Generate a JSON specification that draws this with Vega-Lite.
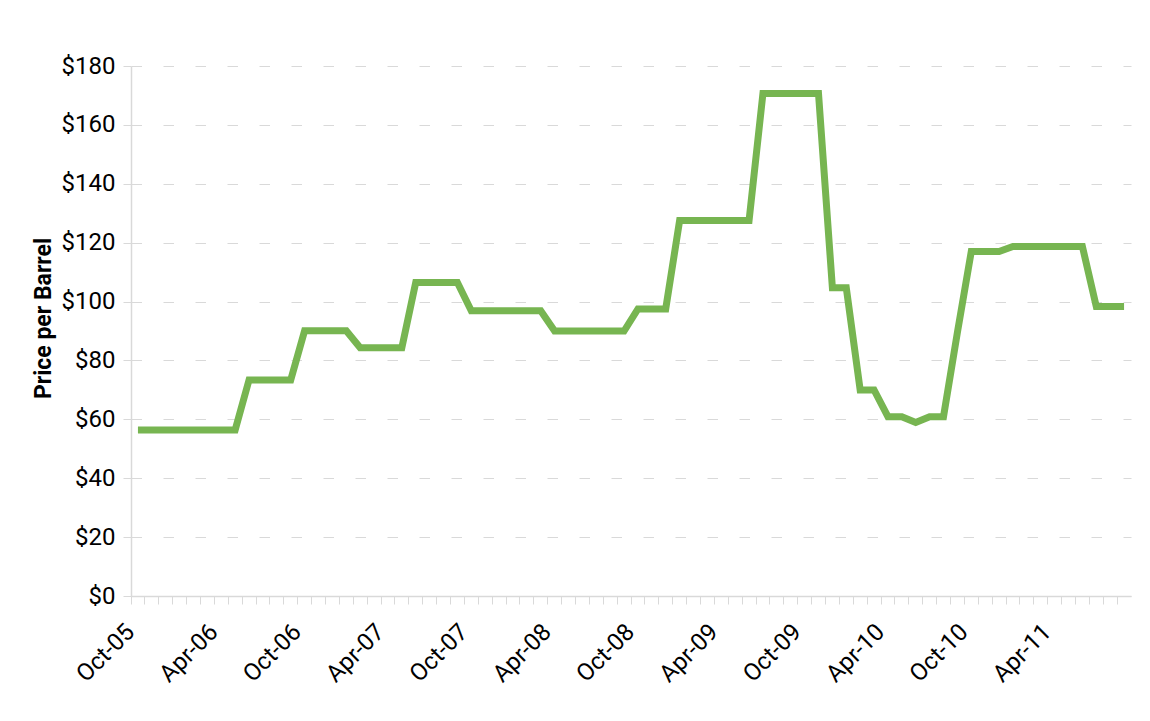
{
  "$schema": "https://vega.github.io/schema/vega-lite/v6.json",
  "width": 1000,
  "height": 530,
  "autosize": "none",
  "padding": {"left": 131, "top": 66, "right": 19, "bottom": 125},
  "background": "white",
  "config": {
    "view": {"stroke": null},
    "font": "Roboto"
  },
  "data": {
    "values": [
      {"month": "Oct-05", "price": 56.4}, {"month": "Nov-05", "price": 56.4}, {"month": "Dec-05", "price": 56.4},
      {"month": "Jan-06", "price": 56.4}, {"month": "Feb-06", "price": 56.4}, {"month": "Mar-06", "price": 56.4},
      {"month": "Apr-06", "price": 56.4}, {"month": "May-06", "price": 56.4}, {"month": "Jun-06", "price": 73.4},
      {"month": "Jul-06", "price": 73.4}, {"month": "Aug-06", "price": 73.4}, {"month": "Sep-06", "price": 73.4},
      {"month": "Oct-06", "price": 90.1}, {"month": "Nov-06", "price": 90.1}, {"month": "Dec-06", "price": 90.1},
      {"month": "Jan-07", "price": 90.1}, {"month": "Feb-07", "price": 84.3}, {"month": "Mar-07", "price": 84.3},
      {"month": "Apr-07", "price": 84.3}, {"month": "May-07", "price": 84.3}, {"month": "Jun-07", "price": 106.5},
      {"month": "Jul-07", "price": 106.5}, {"month": "Aug-07", "price": 106.5}, {"month": "Sep-07", "price": 106.5},
      {"month": "Oct-07", "price": 96.9}, {"month": "Nov-07", "price": 96.9}, {"month": "Dec-07", "price": 96.9},
      {"month": "Jan-08", "price": 96.9}, {"month": "Feb-08", "price": 96.9}, {"month": "Mar-08", "price": 96.9},
      {"month": "Apr-08", "price": 90.0}, {"month": "May-08", "price": 90.0}, {"month": "Jun-08", "price": 90.0},
      {"month": "Jul-08", "price": 90.0}, {"month": "Aug-08", "price": 90.0}, {"month": "Sep-08", "price": 90.0},
      {"month": "Oct-08", "price": 97.5}, {"month": "Nov-08", "price": 97.5}, {"month": "Dec-08", "price": 97.5},
      {"month": "Jan-09", "price": 127.5}, {"month": "Feb-09", "price": 127.5}, {"month": "Mar-09", "price": 127.5},
      {"month": "Apr-09", "price": 127.5}, {"month": "May-09", "price": 127.5}, {"month": "Jun-09", "price": 127.5},
      {"month": "Jul-09", "price": 170.7}, {"month": "Aug-09", "price": 170.7}, {"month": "Sep-09", "price": 170.7},
      {"month": "Oct-09", "price": 170.7}, {"month": "Nov-09", "price": 170.7}, {"month": "Dec-09", "price": 104.7},
      {"month": "Jan-10", "price": 104.7}, {"month": "Feb-10", "price": 70.0}, {"month": "Mar-10", "price": 70.0},
      {"month": "Apr-10", "price": 60.9}, {"month": "May-10", "price": 60.9}, {"month": "Jun-10", "price": 58.9},
      {"month": "Jul-10", "price": 60.9}, {"month": "Aug-10", "price": 60.9}, {"month": "Sep-10", "price": 89.5},
      {"month": "Oct-10", "price": 117.0}, {"month": "Nov-10", "price": 117.0}, {"month": "Dec-10", "price": 117.0},
      {"month": "Jan-11", "price": 118.7}, {"month": "Feb-11", "price": 118.7}, {"month": "Mar-11", "price": 118.7},
      {"month": "Apr-11", "price": 118.7}, {"month": "May-11", "price": 118.7}, {"month": "Jun-11", "price": 118.7},
      {"month": "Jul-11", "price": 98.3}, {"month": "Aug-11", "price": 98.3}, {"month": "Sep-11", "price": 98.3}
    ]
  },
  "mark": {"type": "line", "color": "#77b551", "strokeWidth": 7, "strokeJoin": "miter", "strokeCap": "butt"},
  "encoding": {
    "x": {
      "field": "month",
      "type": "ordinal",
      "sort": null,
      "bandPosition": 0.5,
      "scale": {"type": "band", "paddingInner": 0, "paddingOuter": 0},
      "axis": {
        "title": null,
        "bandPosition": 0,
        "grid": false,
        "domainColor": "#d9d9d9",
        "domainWidth": 1.5,
        "tickColor": "#d9d9d9",
        "tickWidth": 1,
        "tickSize": 8,
        "labelAngle": -45,
        "labelAlign": "right",
        "labelBaseline": "middle",
        "labelFont": "Roboto",
        "labelFontSize": 24,
        "labelColor": "#000000",
        "labelPadding": 24,
        "labelOffset": -7,
        "labelOverlap": false,
        "labelExpr": "indexof(['Oct','Apr'], substring(datum.label, 0, 3)) >= 0 ? datum.label : ''"
      }
    },
    "y": {
      "field": "price",
      "type": "quantitative",
      "scale": {"domain": [0, 180], "nice": false, "zero": true},
      "axis": {
        "values": [0, 20, 40, 60, 80, 100, 120, 140, 160, 180],
        "format": "$,.0f",
        "title": "Price per Barrel",
        "titleFont": "Roboto",
        "titleFontSize": 23,
        "titleFontWeight": "bold",
        "titleColor": "#000000",
        "titleAngle": -90,
        "titleAlign": "center",
        "titleBaseline": "middle",
        "titleX": -88,
        "titleY": 252,
        "domainColor": "#d9d9d9",
        "domainWidth": 1.5,
        "tickColor": "#d9d9d9",
        "tickSize": 8,
        "labelFont": "Roboto",
        "labelFontSize": 24,
        "labelColor": "#000000",
        "labelPadding": 8,
        "grid": true,
        "gridColor": "#d9d9d9",
        "gridWidth": 1,
        "gridDash": [10.5, 21.5]
      }
    }
  }
}
